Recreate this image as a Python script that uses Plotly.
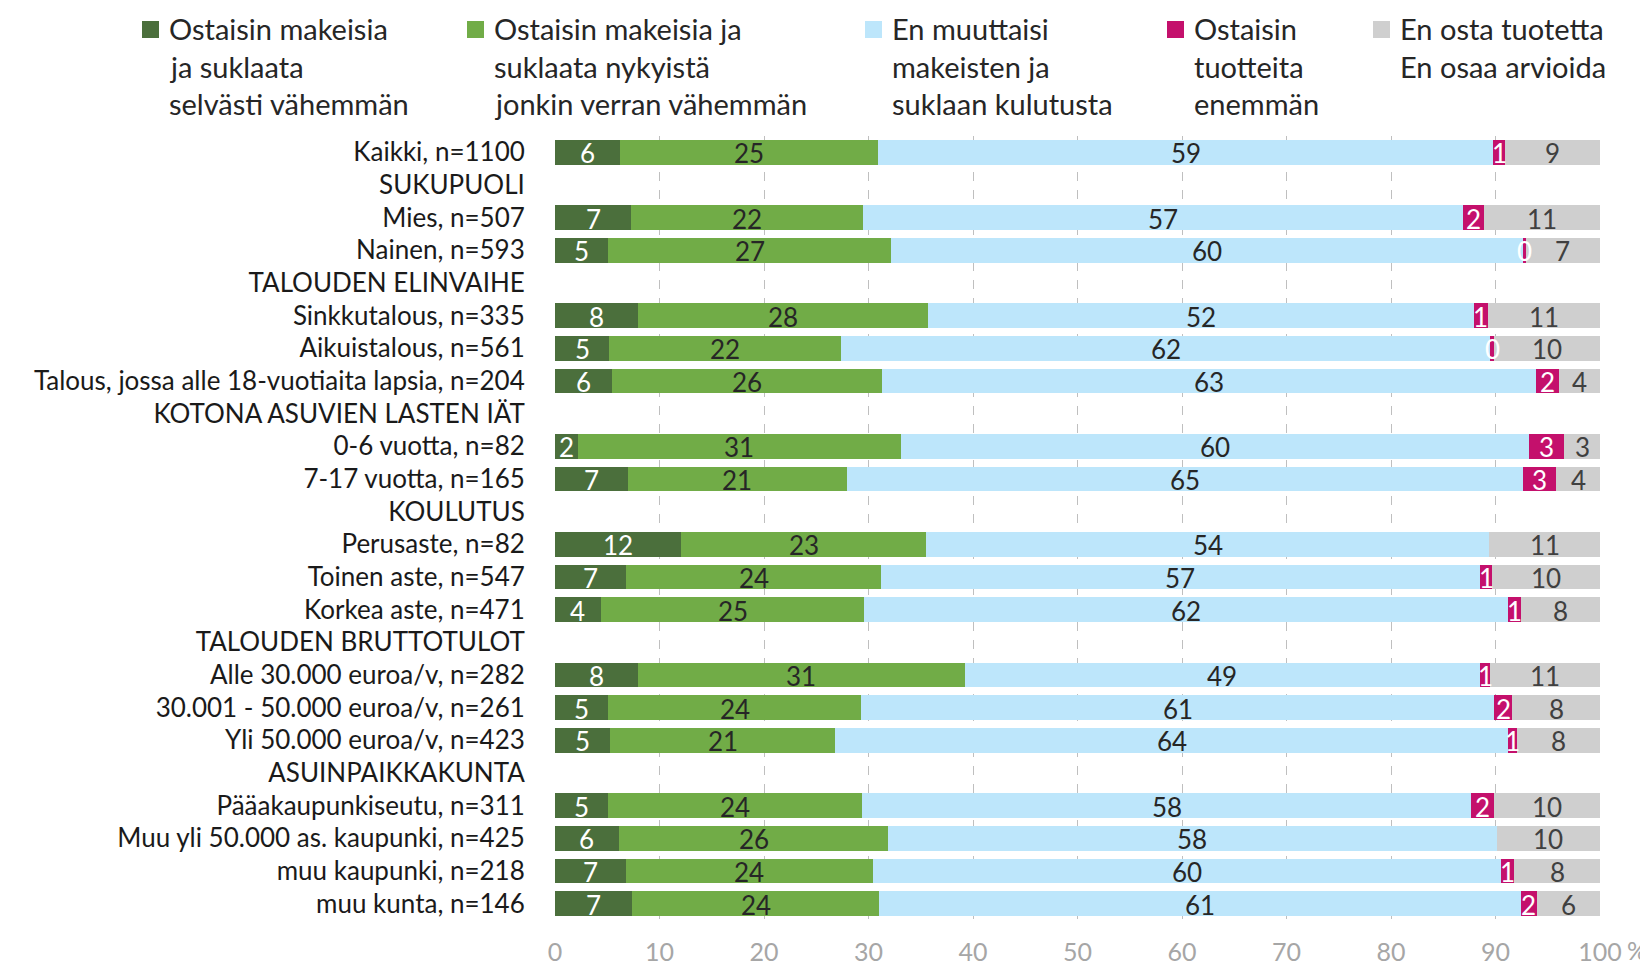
import plotly.graph_objects as go

categories = [
    "Kaikki, n=1100", "SUKUPUOLI", "Mies, n=507", "Nainen, n=593",
    "TALOUDEN ELINVAIHE", "Sinkkutalous, n=335", "Aikuistalous, n=561",
    "Talous, jossa alle 18-vuotiaita lapsia, n=204", "KOTONA ASUVIEN LASTEN IÄT",
    "0-6 vuotta, n=82", "7-17 vuotta, n=165", "KOULUTUS", "Perusaste, n=82",
    "Toinen aste, n=547", "Korkea aste, n=471", "TALOUDEN BRUTTOTULOT",
    "Alle 30.000 euroa/v, n=282", "30.001 - 50.000 euroa/v, n=261",
    "Yli 50.000 euroa/v, n=423", "ASUINPAIKKAKUNTA", "Pääakaupunkiseutu, n=311",
    "Muu yli 50.000 as. kaupunki, n=425", "muu kaupunki, n=218", "muu kunta, n=146",
]

series_names = [
    "Ostaisin makeisia<br>ja suklaata<br>selvästi vähemmän",
    "Ostaisin makeisia ja<br>suklaata nykyistä<br>jonkin verran vähemmän",
    "En muuttaisi<br>makeisten ja<br>suklaan kulutusta",
    "Ostaisin<br>tuotteita<br>enemmän",
    "En osta tuotetta<br>En osaa arvioida",
]

N = None
much_less = [6.2, N, 7.3, 5.1, N, 7.9, 5.2, 5.5, N, 2.2, 7.0, N, 12.1, 6.8, 4.4, N, 7.9, 5.1, 5.3, N, 5.1, 6.1, 6.8, 7.4]
some_less = [24.7, N, 22.2, 27.1, N, 27.8, 22.2, 25.8, N, 30.9, 20.9, N, 23.4, 24.4, 25.2, N, 31.3, 24.2, 21.5, N, 24.3, 25.8, 23.6, 23.6]
no_change = [58.9, N, 57.4, 60.4, N, 52.2, 62.1, 62.6, N, 60.1, 64.7, N, 53.9, 57.3, 61.6, N, 49.3, 60.6, 64.4, N, 58.3, 58.2, 60.1, 61.4]
more = [1.1, N, 2.0, 0.3, N, 1.4, 0.4, 2.2, N, 3.4, 3.2, N, 0.0, 1.2, 1.2, N, 1.0, 1.7, 0.9, N, 2.2, 0.0, 1.3, 1.6]
dont_buy = [9.1, N, 11.1, 7.1, N, 10.7, 10.1, 3.9, N, 3.4, 4.2, N, 10.6, 10.3, 7.6, N, 10.5, 8.4, 7.9, N, 10.1, 9.9, 8.2, 6.0]

lab_much_less = [6, N, 7, 5, N, 8, 5, 6, N, 2, 7, N, 12, 7, 4, N, 8, 5, 5, N, 5, 6, 7, 7]
lab_some_less = [25, N, 22, 27, N, 28, 22, 26, N, 31, 21, N, 23, 24, 25, N, 31, 24, 21, N, 24, 26, 24, 24]
lab_no_change = [59, N, 57, 60, N, 52, 62, 63, N, 60, 65, N, 54, 57, 62, N, 49, 61, 64, N, 58, 58, 60, 61]
lab_more = [1, N, 2, 0, N, 1, 0, 2, N, 3, 3, N, N, 1, 1, N, 1, 2, 1, N, 2, N, 1, 2]
lab_dont_buy = [9, N, 11, 7, N, 11, 10, 4, N, 3, 4, N, 11, 10, 8, N, 11, 8, 8, N, 10, 10, 8, 6]

x_ticks = [0, 10, 20, 30, 40, 50, 60, 70, 80, 90, 100]
x_ticktext = ["0", "10", "20", "30", "40", "50", "60", "70", "80", "90", "100"]

colors = ["#4b6f3c", "#71ac47", "#bde6fb", "#c4106c", "#cfcfcf"]
text_colors = ["#ffffff", "#262626", "#262626", "#ffffff", "#404040"]

series = [much_less, some_less, no_change, more, dont_buy]
labels = [lab_much_less, lab_some_less, lab_no_change, lab_more, lab_dont_buy]

FONT = "Lato"
OFF = 8  # page body margin
W, H = 1648 - OFF, 967 - OFF
# plot area in page pixels
PL, PR, PT, PB = 555, 1600, 136, 920


def px_x(px):
    return (px - PL) / (PR - PL)


def px_y(py):
    return (PB - py) / (PB - PT)


fig = go.Figure()
for name, vals, col in zip(series_names, series, colors):
    fig.add_trace(go.Bar(
        y=categories, x=vals, orientation="h", name=name.replace("<br>", " "),
        marker=dict(color=col, line=dict(width=0)),
        showlegend=False, hoverinfo="x+y",
    ))

# value labels at segment centres
cum = [0.0] * len(categories)
for vals, labs, tcol in zip(series, labels, text_colors):
    for i, (v, l) in enumerate(zip(vals, labs)):
        if v is None:
            continue
        if l is not None:
            fig.add_annotation(
                x=cum[i] + v / 2, y=categories[i], xref="x", yref="y",
                text=str(l), showarrow=False, xanchor="center", yanchor="middle",
                yshift=-1, font=dict(family=FONT, size=26, color=tcol),
            )
        cum[i] += v

# legend drawn as annotations (multi-line, wide line spacing)
leg_marker_px = [142, 467, 865, 1167, 1373]
line_py = [28, 66, 104]
for name, col, mx in zip(series_names, colors, leg_marker_px):
    fig.add_shape(type="rect", xref="paper", yref="paper",
                  x0=px_x(mx), x1=px_x(mx + 17), y0=px_y(21), y1=px_y(38),
                  fillcolor=col, line=dict(width=0))
    for j, line in enumerate(name.split("<br>")):
        fig.add_annotation(text=line, xref="paper", yref="paper",
                           x=px_x(mx + 25), y=px_y(line_py[j]),
                           xanchor="left", yanchor="middle", showarrow=False,
                           font=dict(family=FONT, size=29, color="#262626"))

fig.add_annotation(text="%", xref="x", yref="paper", x=100, y=px_y(950),
                   xanchor="left", yanchor="middle", xshift=25, showarrow=False,
                   font=dict(family=FONT, size=25, color="#a6a6a6"))

fig.update_layout(
    barmode="stack",
    bargap=0.25,
    width=W, height=H,
    margin=dict(l=PL - OFF, r=W - (PR - OFF), t=PT - OFF, b=H - (PB - OFF), autoexpand=False),
    paper_bgcolor="white", plot_bgcolor="white",
    font=dict(family=FONT, size=26, color="#262626"),
    showlegend=False,
)
fig.update_xaxes(
    range=[0, 100], tickvals=x_ticks, ticktext=x_ticktext,
    showgrid=True, gridcolor="#bfbfbf", griddash="dash", gridwidth=1,
    zeroline=False, showline=False, automargin=False,
    ticks="outside", ticklen=10, tickcolor="rgba(0,0,0,0)",
    tickfont=dict(family=FONT, size=25, color="#a6a6a6"),
)
fig.update_yaxes(
    type="category", categoryorder="array", categoryarray=categories,
    range=[len(categories) - 0.5, -0.5],
    showgrid=False, zeroline=False, showline=False, automargin=False,
    ticks="outside", ticklen=24, tickcolor="rgba(0,0,0,0)",
    tickfont=dict(family=FONT, size=26, color="#1a1a1a"),
)

fig.write_html("out.html")
